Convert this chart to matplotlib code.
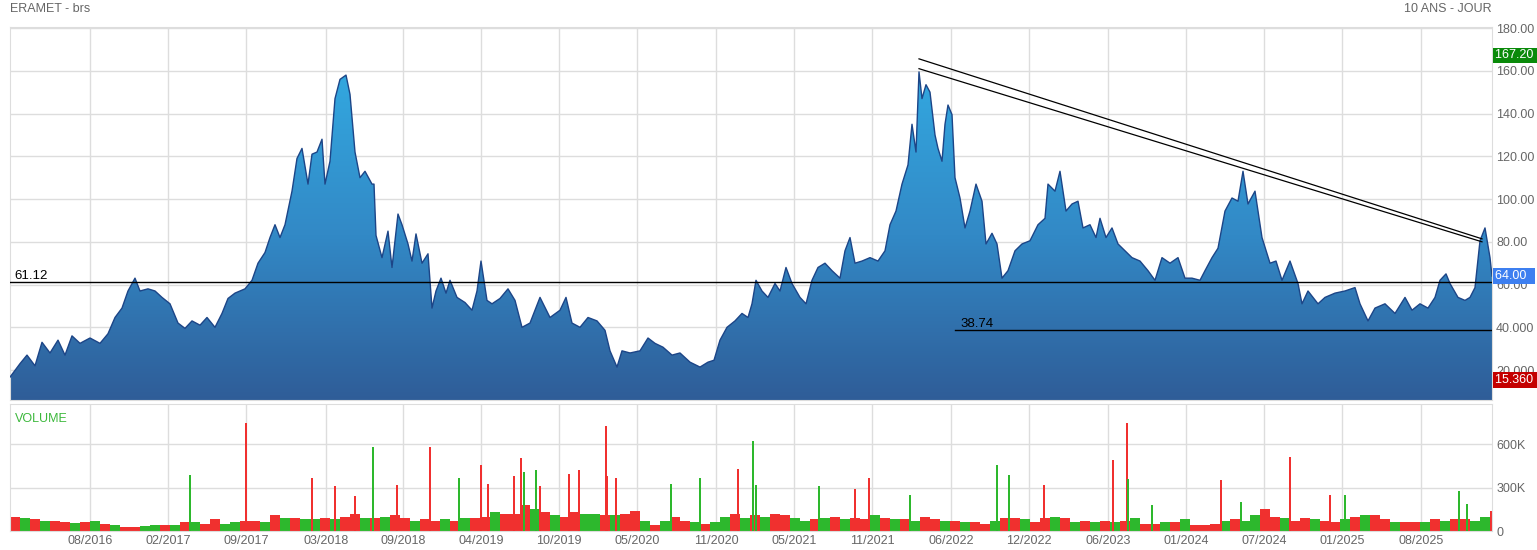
import matplotlib.pyplot as plt
import numpy as np
from matplotlib.path import Path
from matplotlib.patches import PathPatch
from matplotlib.colors import LinearSegmentedColormap

plt.rcParams["font.family"] = ["Liberation Sans", "DejaVu Sans"]

# chart time index (sessions on the drawn scale) and closing price
session = [0, 10, 17, 25, 32, 40, 48, 55, 62, 70, 80, 90, 98, 105, 112, 118, 125, 130, 138, 145,
           152, 160, 168, 175, 182, 190, 197, 205, 212, 218, 225, 235, 242, 248, 255, 260, 265, 270,
           275, 282, 287, 292, 298, 302, 307, 312, 315, 320, 325, 330, 336, 340, 345, 350, 355, 362,
           364, 366, 372, 378, 382, 388, 392, 398, 402, 406, 412, 418, 422, 426, 431, 436, 440, 447,
           455, 462, 467, 471, 477, 482, 490, 498, 505, 512, 520, 530, 540, 550, 556, 562, 570, 578,
           587, 595, 600, 607, 612, 620, 630, 638, 645, 653, 662, 670, 680, 690, 698, 704, 710, 717,
           725, 732, 738, 742, 746, 752, 758, 765, 770, 776, 782, 790, 796, 802, 808, 815, 822, 830,
           835, 840, 845, 852, 860, 868, 875, 880, 886, 892, 898, 902, 906, 909, 912, 916, 920, 925,
           928, 932, 935, 938, 942, 945, 950, 955, 960, 966, 972, 976, 982, 987, 992, 998, 1005, 1012,
           1020, 1028, 1035, 1038, 1045, 1050, 1056, 1062, 1068, 1073, 1080, 1086, 1090, 1096, 1102,
           1108, 1115, 1122, 1130, 1138, 1145, 1152, 1160, 1168, 1175, 1182, 1190, 1195, 1202, 1208,
           1215, 1222, 1228, 1233, 1238, 1245, 1252, 1260, 1266, 1272, 1280, 1288, 1292, 1298, 1308,
           1315, 1325, 1335, 1345, 1350, 1358, 1365, 1375, 1385, 1395, 1402, 1410, 1418, 1425, 1430,
           1436, 1440, 1448, 1455, 1460, 1465, 1470, 1475, 1480, 1482]
close = [16.7, 23, 27, 22, 33, 28, 34, 27, 36, 32.5, 35, 32.5, 37, 44.6, 49, 57, 63, 57, 58, 57,
         54, 51, 42, 39.5, 43, 41, 44.6, 40, 46.5, 53.5, 56, 58, 62, 70, 75, 82, 88, 82, 88, 103.7,
         119, 123.7, 107, 121, 122, 128, 107, 117.7, 147, 156, 158, 149, 122, 110, 113, 107,
         107, 83, 72.6, 85, 68, 93, 88, 79, 71, 83.7, 70, 74.4, 49, 57, 63, 56, 62, 54, 51.6, 48,
         57, 71, 52.6, 51, 53.5, 58, 52.6, 40, 42, 54, 44.6, 48, 54, 42, 40, 44.6, 43, 38.6, 29,
         21.4, 29, 28, 29, 35, 32.5, 30.7, 27, 28, 23.7, 21.4, 23.7, 24.6, 34, 40, 43, 46.5, 44.6,
         51, 62, 57, 54, 60.5, 57, 68, 60.5, 54, 51, 62, 68, 70, 66.5, 63, 75.8, 82, 70, 71, 72.6,
         71, 75.8, 88, 94.4, 107, 116, 135, 122, 159.5, 147, 153.5, 150, 130, 123.7, 117.7, 135,
         144, 139.5, 110, 100.5, 86.5, 94.4, 107, 99, 79, 84, 79, 63, 66.5, 75.8, 79, 80.5, 88, 91,
         107, 103.7, 113, 94.4, 97.7, 99, 86.5, 88, 82, 91, 82, 86.5, 79, 75.8, 72.6, 71, 66.5, 62,
         72.6, 70, 72.6, 63, 63, 62, 66.5, 72.6, 77, 94.4, 100.5, 99, 113, 97.7, 103.7, 82, 70, 71,
         62, 71, 60.5, 51, 57, 51, 54, 56, 57, 58.6, 51, 43, 49, 51, 46.5, 54, 48, 51, 49, 54, 62,
         65, 60.5, 54, 52.6, 54, 58.6, 80.5, 86.5, 72.6, 64]

# volume per bin of 10 sessions, colour flag (g = up, r = down)
vol_k = [100, 90, 80, 70, 70, 60, 55, 60, 70, 50,
         40, 30, 30, 35, 40, 40, 45, 60, 60, 50,
         80, 50, 60, 70, 70, 60, 110, 90, 90, 80,
         80, 90, 80, 100, 120, 90, 90, 100, 110, 90,
         70, 80, 70, 80, 70, 90, 90, 100, 130, 120,
         120, 180, 150, 130, 110, 100, 130, 120, 120, 110,
         110, 120, 140, 70, 40, 70, 100, 70, 60, 50,
         60, 100, 120, 90, 110, 100, 120, 110, 90, 70,
         80, 90, 100, 80, 90, 80, 110, 90, 80, 80,
         70, 100, 80, 70, 70, 60, 60, 50, 70, 90,
         90, 80, 60, 90, 100, 90, 60, 70, 60, 70,
         60, 70, 90, 50, 50, 60, 60, 80, 40, 40,
         50, 70, 80, 70, 110, 150, 100, 90, 70, 90,
         80, 70, 60, 80, 100, 110, 110, 80, 60, 60,
         60, 60, 80, 70, 80, 80, 70, 100, 140, 140]
vol_up = ("rgrgrrgrgr" "grrggrgrgr" "rggrrgrgrg" "grgrrgrgrr" "grrgrgrrgr"
          "rrgrgrrggr" "grrgrgrrgr" "ggrgrgrrgg" "rgrgrrgrgr" "grrgrgrrgr"
          "rgrrgrgrgr" "grgrrgrgrr" "rgrggrrgrr" "grrgrgrrgr" "rgrgrrggrr")
spike_session = [180, 236, 302, 325, 345, 363, 387, 420, 449, 471, 478, 504, 511, 514, 526, 530,
                 559, 569, 596, 597, 606, 661, 690, 728, 743, 746, 809, 845, 859, 900, 987, 999,
                 1034, 1103, 1117, 1118, 1142, 1211, 1231, 1280, 1320, 1335, 1449, 1457]
spike_k = [390, 750, 365, 315, 245, 580, 320, 585, 370, 460, 325, 380, 505, 410, 420, 310,
           395, 420, 730, 380, 365, 325, 370, 430, 625, 320, 310, 290, 370, 250, 460, 390,
           320, 490, 750, 360, 180, 350, 200, 510, 250, 250, 280, 190]
spike_up = "grrrrgrrgrrrrggrrrrrrggrgggrrgggrrrggrgrrgggr"

date_ticks = [80, 158, 236, 316, 393, 471, 549, 627, 706, 784, 862, 941, 1019, 1098, 1176, 1254, 1332, 1411]
date_labels = ["08/2016", "02/2017", "09/2017", "03/2018", "09/2018", "04/2019", "10/2019", "05/2020",
               "11/2020", "05/2021", "11/2021", "06/2022", "12/2022", "06/2023", "01/2024", "07/2024",
               "01/2025", "08/2025"]
price_ticks = [20, 40, 60, 80, 100, 120, 140, 160, 180]
price_labels = ["20.000", "40.000", "60.00", "80.00", "100.00", "120.00", "140.00", "160.00", "180.00"]
level_hi = 61.12
level_lo = 38.74
trend_a = ([909, 1472], [165.6, 81.4])
trend_b = ([909, 1472], [161.0, 80.0])

GRID = "#dddddd"
TXT = "#666666"
FS = 9

fig = plt.figure(figsize=(15.37, 5.5), dpi=100)
W, H = 1537, 550
ax = fig.add_axes([10 / W, 1 - 400 / H, 1482 / W, 373 / H])
axv = fig.add_axes([10 / W, 1 - 531 / H, 1482 / W, 127 / H])

# price area with gradient fill
x = np.array(session, dtype=float)
y = np.array(close)
ax.set_xlim(0, 1482)
ax.set_ylim(6, 180.5)
verts = np.column_stack([np.r_[x, x[-1], x[0]], np.r_[y, 6, 6]])
clip = PathPatch(Path(verts), facecolor="none", edgecolor="none")
ax.add_patch(clip)
grad = np.linspace(0, 1, 256).reshape(-1, 1)
cmap = LinearSegmentedColormap.from_list("b", ["#2f5d98", "#3289c6", "#33a8e0"])
im = ax.imshow(grad, extent=[0, 1482, 6, 160], origin="lower", aspect="auto", cmap=cmap, zorder=2)
im.set_clip_path(clip)
ax.plot(x, y, color="#1c4587", lw=1.0, zorder=3)

for t in date_ticks:
    ax.axvline(t, color=GRID, lw=1, zorder=1)
    axv.axvline(t, color=GRID, lw=1, zorder=0)
for p in price_ticks:
    ax.axhline(p, color=GRID, lw=1, zorder=1)

ax.axhline(level_hi, color="black", lw=1, zorder=4)
ax.text(4, level_hi + 1.5, "61.12", fontsize=9.5, color="black", zorder=5)
ax.plot([945, 1482], [level_lo, level_lo], color="black", lw=1, zorder=4)
ax.text(950, level_lo + 1.5, "38.74", fontsize=9.5, color="black", zorder=5)
ax.plot(*trend_a, color="black", lw=0.9, zorder=4)
ax.plot(*trend_b, color="black", lw=0.9, zorder=4)

ax.set_xticks([])
ax.yaxis.tick_right()
ax.set_yticks(price_ticks)
ax.set_yticklabels(price_labels, fontsize=FS, color=TXT)
ax.tick_params(axis="y", length=0, pad=3)
for s in ax.spines.values():
    s.set_color(GRID)


def tag(a, val, txt, col):
    a.text(1.002, val, txt, transform=a.get_yaxis_transform(), fontsize=FS, color="white",
           va="center", ha="left", zorder=6,
           bbox=dict(boxstyle="square,pad=0.15", facecolor=col, edgecolor="none"))


tag(ax, 167.2, "167.20 ", "#0a8a0a")
tag(ax, 64.0, "64.00  ", "#3d7ff0")
tag(ax, 15.36, "15.360 ", "#c40000")

# volume
up_c, dn_c = "#2db82d", "#f0302f"
vx = np.arange(len(vol_k)) * 10 + 5
axv.bar(vx, vol_k, width=10, color=[up_c if c == "g" else dn_c for c in vol_up], zorder=2)
axv.bar(spike_session, spike_k, width=1.8,
        color=[up_c if c == "g" else dn_c for c in spike_up[:len(spike_k)]], zorder=3)
axv.set_xlim(0, 1482)
axv.set_ylim(0, 880)
axv.yaxis.tick_right()
axv.set_yticks([0, 300, 600])
axv.set_yticklabels(["0", "300K", "600K"], fontsize=FS, color=TXT)
for p in [300, 600]:
    axv.axhline(p, color=GRID, lw=1, zorder=0)
axv.set_xticks(date_ticks)
axv.set_xticklabels(date_labels, fontsize=FS, color=TXT)
axv.tick_params(length=0, pad=3)
for s in axv.spines.values():
    s.set_color(GRID)
axv.text(0.003, 0.93, "VOLUME", transform=axv.transAxes, fontsize=FS, color="#3cb83c", va="top")

fig.text(10 / W, 1 - 9 / H, "ERAMET - brs", fontsize=FS, color=TXT, va="center")
fig.text(1492 / W, 1 - 9 / H, "10 ANS - JOUR", fontsize=FS, color=TXT, va="center", ha="right")

fig.savefig("out.png", dpi=100)
